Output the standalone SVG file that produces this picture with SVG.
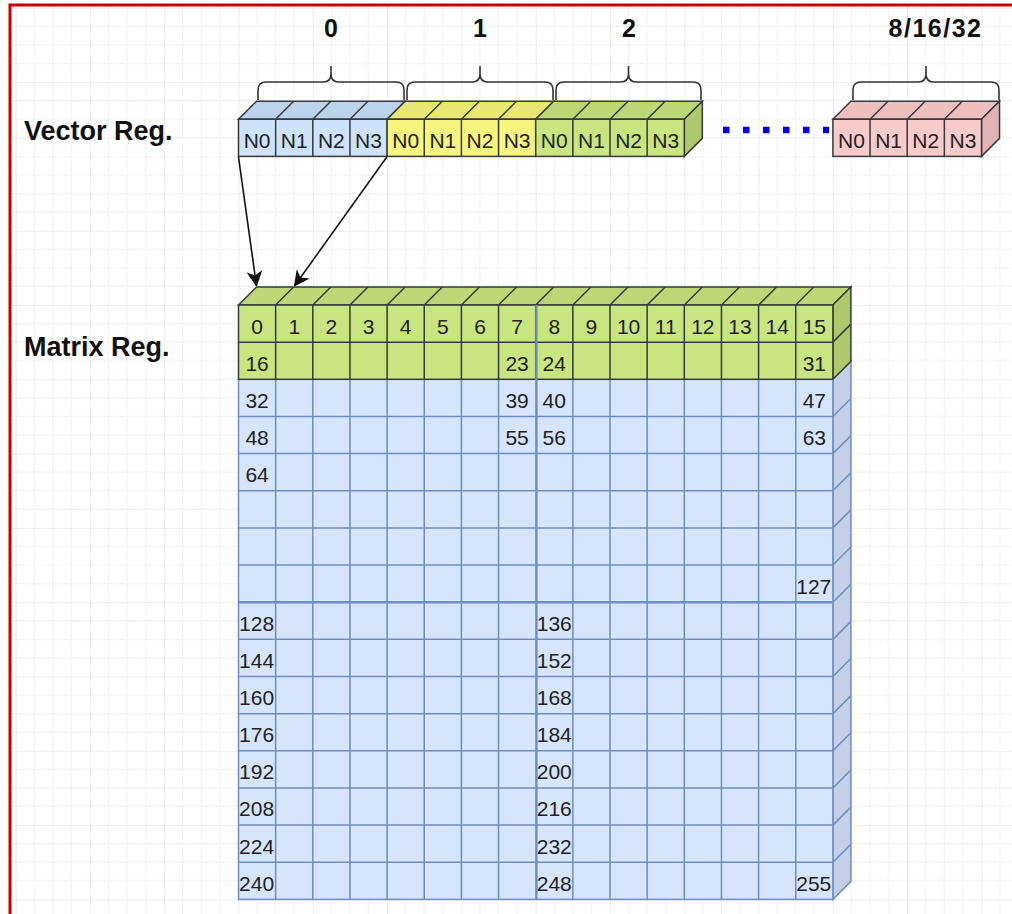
<svg xmlns="http://www.w3.org/2000/svg" width="1012" height="914" viewBox="0 0 1012 914">
  <defs>
    <!-- editor-style background grid: minor every half cell, major every two cells -->
    <pattern id="grid" patternUnits="userSpaceOnUse" x="238.5" y="305" width="74.3" height="74.3">
      <path d="M18.575,0V74.3M37.15,0V74.3M55.725,0V74.3M0,18.575H74.3M0,37.15H74.3M0,55.725H74.3" stroke="#f2f2f2" stroke-width="1.3" fill="none"/>
      <path d="M0,0V74.3M0,0H74.3" stroke="#e6e6e6" stroke-width="1.6" fill="none"/>
    </pattern>
    <marker id="arrow" viewBox="0 0 16 16" markerWidth="16" markerHeight="16" refX="15" refY="8" orient="auto" markerUnits="userSpaceOnUse">
      <path d="M0,0 L16,8 L0,16 L4.5,8 Z" fill="#111"/>
    </marker>
    <style>
      .edge { stroke: #36393d; stroke-width: 1.5; fill: none; }
      .bedge { stroke: #6c8ebf; stroke-width: 1.5; fill: none; }
      .vblue { fill: #cce3fb; }
      .vblue-top { fill: #bcd3ec; }
      .vyel { fill: #f7f57e; }
      .vyel-top { fill: #e8e674; }
      .green { fill: #c8e57f; }
      .green-top { fill: #bcd876; }
      .green-side { fill: #aec96c; }
      .pink { fill: #f9caca; }
      .pink-top { fill: #eebfbf; }
      .pink-side { fill: #e3b3b3; }
      .mblue { fill: #d6e5fb; }
      .mblue-side { fill: #c3d0e6; }
      .n { font-family: "Liberation Sans", Arial, sans-serif; font-size: 21px; fill: #222; text-anchor: middle; }
      .title { font-family: "Liberation Sans", Arial, sans-serif; font-size: 27px; font-weight: bold; fill: #111; }
      .idx { font-family: "Liberation Sans", Arial, sans-serif; font-size: 25px; font-weight: bold; fill: #111; text-anchor: middle; }
      .brace { stroke: #333; stroke-width: 1.6; fill: none; }
    </style>
  </defs>

  <!-- canvas -->
  <rect x="0" y="0" width="1012" height="914" fill="#ffffff"/>
  <rect x="10" y="5" width="1002" height="909" fill="url(#grid)"/>
  <path d="M10,914 V5 H1012" stroke="#cc0000" stroke-width="3" fill="none"/>

  <!-- row labels -->
  <text class="title" x="24" y="140">Vector Reg.</text>
  <text class="title" x="24" y="356">Matrix Reg.</text>

  <!-- group index labels and braces -->
  <g id="group-labels">
    <text class="idx" x="331" y="37">0</text>
    <text class="idx" x="480" y="37">1</text>
    <text class="idx" x="629" y="37">2</text>
    <text class="idx" x="935.5" y="37" letter-spacing="1.5">8/16/32</text>
    <path class="brace" d="M258,100 V90 Q258,82 266,82 H323 Q331,82 331,74 V66 M331,66 V74 Q331,82 339,82 H396 Q404,82 404,90 V100"/>
    <path class="brace" d="M407,100 V90 Q407,82 415,82 H472 Q480,82 480,74 V66 M480,66 V74 Q480,82 488,82 H545 Q553,82 553,90 V100"/>
    <path class="brace" d="M556,100 V90 Q556,82 564,82 H620.5 Q628.5,82 628.5,74 V66 M628.5,66 V74 Q628.5,82 636.5,82 H693 Q701,82 701,90 V100"/>
    <path class="brace" d="M853,100 V90 Q853,82 861,82 H918 Q926,82 926,74 V66 M926,66 V74 Q926,82 934,82 H991 Q999,82 999,90 V100"/>
  </g>

  <!-- vector register: four lanes per group -->
  <g id="vec-0">
    <polygon class="vblue-top edge" points="238.5,119.25 256.5,101.25 405.1,101.25 387.1,119.25"/>
    <path class="edge" d="M275.65,119.25 L293.65,101.25 M312.8,119.25 L330.8,101.25 M349.95,119.25 L367.95,101.25"/>
    <rect class="vblue edge" x="238.5" y="119.25" width="148.6" height="37.15"/>
    <path class="edge" d="M275.65,119.25 V156.4 M312.8,119.25 V156.4 M349.95,119.25 V156.4"/>
    <text class="n" x="257.075" y="147.5">N0</text>
    <text class="n" x="294.225" y="147.5">N1</text>
    <text class="n" x="331.375" y="147.5">N2</text>
    <text class="n" x="368.525" y="147.5">N3</text>
  </g>
  <g id="vec-1">
    <polygon class="vyel-top edge" points="387.1,119.25 405.1,101.25 553.7,101.25 535.7,119.25"/>
    <path class="edge" d="M424.25,119.25 L442.25,101.25 M461.4,119.25 L479.4,101.25 M498.55,119.25 L516.55,101.25"/>
    <rect class="vyel edge" x="387.1" y="119.25" width="148.6" height="37.15"/>
    <path class="edge" d="M424.25,119.25 V156.4 M461.4,119.25 V156.4 M498.55,119.25 V156.4"/>
    <text class="n" x="405.675" y="147.5">N0</text>
    <text class="n" x="442.825" y="147.5">N1</text>
    <text class="n" x="479.975" y="147.5">N2</text>
    <text class="n" x="517.125" y="147.5">N3</text>
  </g>
  <g id="vec-2">
    <polygon class="green-top edge" points="535.7,119.25 553.7,101.25 702.3,101.25 684.3,119.25"/>
    <polygon class="green-side edge" points="684.3,119.25 702.3,101.25 702.3,138.4 684.3,156.4"/>
    <path class="edge" d="M572.85,119.25 L590.85,101.25 M610,119.25 L628,101.25 M647.15,119.25 L665.15,101.25"/>
    <rect class="green edge" x="535.7" y="119.25" width="148.6" height="37.15"/>
    <path class="edge" d="M572.85,119.25 V156.4 M610,119.25 V156.4 M647.15,119.25 V156.4"/>
    <text class="n" x="554.275" y="147.5">N0</text>
    <text class="n" x="591.425" y="147.5">N1</text>
    <text class="n" x="628.575" y="147.5">N2</text>
    <text class="n" x="665.725" y="147.5">N3</text>
  </g>
  <g id="vec-n">
    <polygon class="pink-top edge" points="832.9,119.25 850.9,101.25 999.5,101.25 981.5,119.25"/>
    <polygon class="pink-side edge" points="981.5,119.25 999.5,101.25 999.5,138.4 981.5,156.4"/>
    <path class="edge" d="M870.05,119.25 L888.05,101.25 M907.2,119.25 L925.2,101.25 M944.35,119.25 L962.35,101.25"/>
    <rect class="pink edge" x="832.9" y="119.25" width="148.6" height="37.15"/>
    <path class="edge" d="M870.05,119.25 V156.4 M907.2,119.25 V156.4 M944.35,119.25 V156.4"/>
    <text class="n" x="851.475" y="147.5">N0</text>
    <text class="n" x="888.625" y="147.5">N1</text>
    <text class="n" x="925.775" y="147.5">N2</text>
    <text class="n" x="962.925" y="147.5">N3</text>
  </g>

  <!-- connectors -->
  <g id="connectors">
    <line x1="723" y1="130" x2="829" y2="130" stroke="#0000ee" stroke-width="6.5" stroke-dasharray="6.5 13.5"/>
    <line x1="238.5" y1="157" x2="256.5" y2="286" stroke="#111" stroke-width="1.6" marker-end="url(#arrow)"/>
    <line x1="386.8" y1="157" x2="294.5" y2="286" stroke="#111" stroke-width="1.6" marker-end="url(#arrow)"/>
  </g>

  <!-- matrix register: 16 x 16 cells -->
  <g id="matrix-reg">
    <!-- top face -->
    <polygon class="green-top edge" points="238.5,305 256.5,287 850.9,287 832.9,305"/>
    <path class="edge" d="M275.65,305 L293.65,287 M312.8,305 L330.8,287 M349.95,305 L367.95,287 M387.1,305 L405.1,287 M424.25,305 L442.25,287 M461.4,305 L479.4,287 M498.55,305 L516.55,287 M535.7,305 L553.7,287 M572.85,305 L590.85,287 M610,305 L628,287 M647.15,305 L665.15,287 M684.3,305 L702.3,287 M721.45,305 L739.45,287 M758.6,305 L776.6,287 M795.75,305 L813.75,287"/>

    <!-- side face -->
    <polygon class="mblue-side bedge" points="832.9,379.3 850.9,361.3 850.9,881.4 832.9,899.4"/>
    <path class="bedge" d="M832.9,416.45 L850.9,398.45 M832.9,453.6 L850.9,435.6 M832.9,490.75 L850.9,472.75 M832.9,527.9 L850.9,509.9 M832.9,565.05 L850.9,547.05 M832.9,602.2 L850.9,584.2 M832.9,639.35 L850.9,621.35 M832.9,676.5 L850.9,658.5 M832.9,713.65 L850.9,695.65 M832.9,750.8 L850.9,732.8 M832.9,787.95 L850.9,769.95 M832.9,825.1 L850.9,807.1 M832.9,862.25 L850.9,844.25"/>
    <polygon class="green-side edge" points="832.9,305 850.9,287 850.9,361.3 832.9,379.3"/>
    <path class="edge" d="M832.9,342.15 L850.9,324.15"/>

    <!-- front face: blue rows -->
    <rect class="mblue" x="238.5" y="379.3" width="594.4" height="520.1"/>
    <path class="bedge" d="M275.65,379.3V899.4M312.8,379.3V899.4M349.95,379.3V899.4M387.1,379.3V899.4M424.25,379.3V899.4M461.4,379.3V899.4M498.55,379.3V899.4M572.85,379.3V899.4M610,379.3V899.4M647.15,379.3V899.4M684.3,379.3V899.4M721.45,379.3V899.4M758.6,379.3V899.4M795.75,379.3V899.4"/>
    <path class="bedge" d="M238.5,416.45H832.9M238.5,453.6H832.9M238.5,490.75H832.9M238.5,527.9H832.9M238.5,565.05H832.9M238.5,639.35H832.9M238.5,676.5H832.9M238.5,713.65H832.9M238.5,750.8H832.9M238.5,787.95H832.9M238.5,825.1H832.9M238.5,862.25H832.9"/>
    <rect class="bedge" x="238.5" y="379.3" width="594.4" height="520.1"/>

    <!-- front face: green rows -->
    <rect class="green" x="238.5" y="305" width="594.4" height="74.3"/>
    <path class="edge" d="M275.65,305V379.3M312.8,305V379.3M349.95,305V379.3M387.1,305V379.3M424.25,305V379.3M461.4,305V379.3M498.55,305V379.3M535.7,305V379.3M572.85,305V379.3M610,305V379.3M647.15,305V379.3M684.3,305V379.3M721.45,305V379.3M758.6,305V379.3M795.75,305V379.3M238.5,342.15H832.9"/>
    <rect class="edge" x="238.5" y="305" width="594.4" height="74.3"/>

    <!-- 8 x 8 block dividers -->
    <path d="M536.4,305V899.4M238.5,602.2H832.9" stroke="#6a8fc4" stroke-width="2.4" fill="none"/>

    <!-- element indices -->
    <g class="numbers">
      <text class="n" x="257.075" y="333.5">0</text>
      <text class="n" x="294.225" y="333.5">1</text>
      <text class="n" x="331.375" y="333.5">2</text>
      <text class="n" x="368.525" y="333.5">3</text>
      <text class="n" x="405.675" y="333.5">4</text>
      <text class="n" x="442.825" y="333.5">5</text>
      <text class="n" x="479.975" y="333.5">6</text>
      <text class="n" x="517.125" y="333.5">7</text>
      <text class="n" x="554.275" y="333.5">8</text>
      <text class="n" x="591.425" y="333.5">9</text>
      <text class="n" x="628.575" y="333.5">10</text>
      <text class="n" x="665.725" y="333.5">11</text>
      <text class="n" x="702.875" y="333.5">12</text>
      <text class="n" x="740.025" y="333.5">13</text>
      <text class="n" x="777.175" y="333.5">14</text>
      <text class="n" x="814.325" y="333.5">15</text>

      <text class="n" x="257.075" y="370.65">16</text>
      <text class="n" x="517.125" y="370.65">23</text>
      <text class="n" x="554.275" y="370.65">24</text>
      <text class="n" x="814.325" y="370.65">31</text>

      <text class="n" x="257.075" y="407.8">32</text>
      <text class="n" x="517.125" y="407.8">39</text>
      <text class="n" x="554.275" y="407.8">40</text>
      <text class="n" x="814.325" y="407.8">47</text>

      <text class="n" x="257.075" y="444.95">48</text>
      <text class="n" x="517.125" y="444.95">55</text>
      <text class="n" x="554.275" y="444.95">56</text>
      <text class="n" x="814.325" y="444.95">63</text>

      <text class="n" x="257.075" y="482.1">64</text>

      <text class="n" x="813.8" y="593.55">127</text>

      <text class="n" x="256.6" y="630.7">128</text>
      <text class="n" x="554.275" y="630.7">136</text>
      <text class="n" x="256.6" y="667.85">144</text>
      <text class="n" x="554.275" y="667.85">152</text>
      <text class="n" x="256.6" y="705">160</text>
      <text class="n" x="554.275" y="705">168</text>
      <text class="n" x="256.6" y="742.15">176</text>
      <text class="n" x="554.275" y="742.15">184</text>
      <text class="n" x="256.6" y="779.3">192</text>
      <text class="n" x="554.275" y="779.3">200</text>
      <text class="n" x="256.6" y="816.45">208</text>
      <text class="n" x="554.275" y="816.45">216</text>
      <text class="n" x="256.6" y="853.6">224</text>
      <text class="n" x="554.275" y="853.6">232</text>
      <text class="n" x="256.6" y="890.75">240</text>
      <text class="n" x="554.275" y="890.75">248</text>
      <text class="n" x="813.8" y="890.75">255</text>
    </g>
  </g>
</svg>
